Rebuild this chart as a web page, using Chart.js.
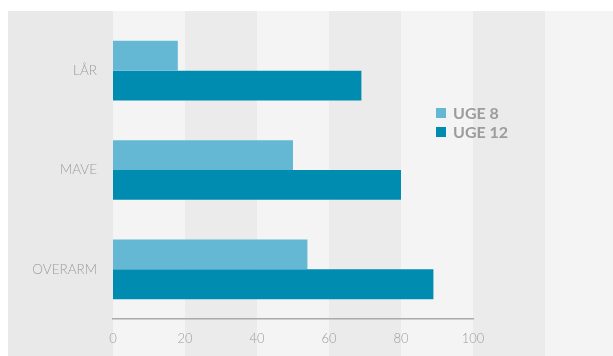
<!DOCTYPE html>
<html>
<head>
<meta charset="utf-8">
<script src="https://cdn.jsdelivr.net/npm/chart.js@4.4.1/dist/chart.umd.min.js"></script>
<style>
 html,body{margin:0;padding:0;background:#fff;}
 #wrap{position:absolute;left:8px;top:11px;width:605px;height:345px;}
</style>
</head>
<body>
<div id="wrap"><canvas id="chart"></canvas></div>
<script>
const categories=["LÅR","MAVE","OVERARM"];
const seriesNames=["UGE 8","UGE 12"];
const uge8=[18,50,54];
const uge12=[69,80,89];
const seriesColors=["#64b8d4","#008bb0"];

const GREY="#9c9c9c";

// alternating vertical bands every 20 units, carried past the axis end
const bands={
 id:"bands",
 beforeDraw(chart){
  const {ctx,width,height,scales:{x}}=chart;
  ctx.save();
  ctx.fillStyle="#e9e9ea";
  ctx.fillRect(0,0,width,height);
  for(let i=0;;i++){
   const x0=x.getPixelForValue(i*20),x1=x.getPixelForValue((i+1)*20);
   if(x0>=width)break;
   ctx.fillStyle=i%2?"#ebebeb":"#f4f4f4";
   ctx.fillRect(x0,0,x1-x0,height);
  }
  ctx.restore();
 }
};

// legend sits inside the plot, right of the bars
const insideLegend={
 id:"insideLegend",
 afterDraw(chart){
  const {ctx,chartArea}=chart;
  const lx=chartArea.right-37,ly=chartArea.top+92;
  ctx.save();
  ctx.font="bold 16px Lato, 'Open Sans', sans-serif";
  ctx.textBaseline="middle";
  chart.data.datasets.forEach((d,i)=>{
   const y=ly+i*19;
   ctx.fillStyle=d.backgroundColor;
   ctx.fillRect(lx,y-5,10,10);
   ctx.fillStyle=GREY;
   ctx.fillText(d.label,lx+17,y+1);
  });
  ctx.restore();
 }
};

new Chart(document.getElementById("chart"),{
 type:"bar",
 data:{
  labels:categories,
  datasets:[
   {label:seriesNames[0],data:uge8,backgroundColor:seriesColors[0]},
   {label:seriesNames[1],data:uge12,backgroundColor:seriesColors[1]}
  ]
 },
 options:{
  indexAxis:"y",
  responsive:true,
  maintainAspectRatio:false,
  animation:false,
  categoryPercentage:0.6,
  barPercentage:1.0,
  layout:{padding:{top:10,right:140,left:0,bottom:0}},
  plugins:{legend:{display:false},tooltip:{enabled:false}},
  scales:{
   x:{
    min:0,max:100,
    ticks:{stepSize:20,color:GREY,padding:4,font:{family:"Lato, 'Open Sans', sans-serif",size:13,weight:300}},
    grid:{display:false},
    border:{display:true,color:"#aaaaaa",width:1.5},
    afterFit(s){s.height=37;s.paddingLeft=0;s.paddingRight=0;}
   },
   y:{
    ticks:{color:GREY,padding:8,font:{family:"Lato, 'Open Sans', sans-serif",size:13.5,weight:300}},
    grid:{display:false},
    border:{display:false},
    afterFit(s){s.width=105;s.paddingTop=0;s.paddingBottom=0;}
   }
  }
 },
 plugins:[bands,insideLegend]
});
</script>
</body>
</html>
